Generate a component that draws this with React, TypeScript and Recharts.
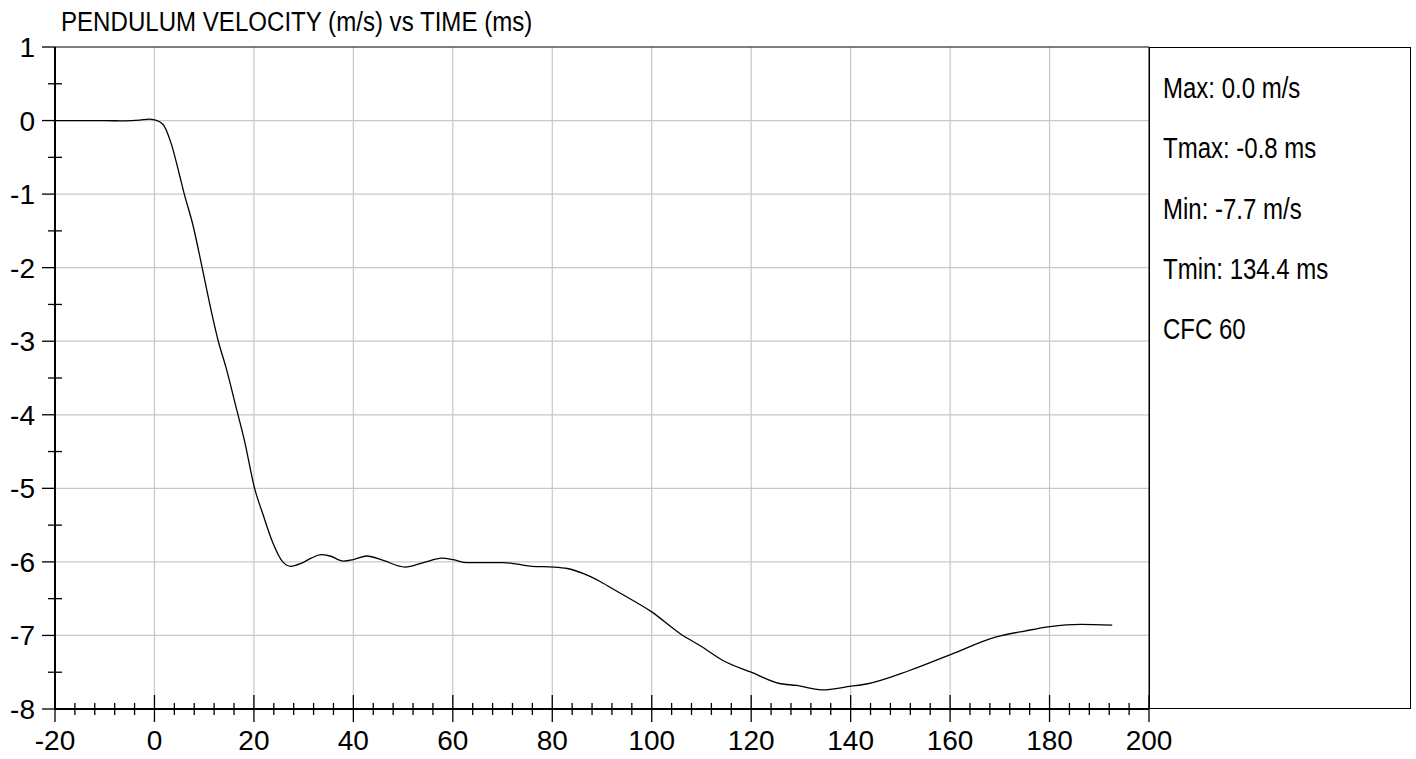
import React from 'react';
import { LineChart, Line, XAxis, YAxis, ReferenceLine } from 'recharts';

const timeMs = [
  -20, -15, -10, -6, -3, -1, 0, 1.7, 3.4, 5, 6, 7.7, 9.5, 11.1, 12.8, 14.4, 16.5, 18.1, 20.1, 21.8,
  23.8, 25.8, 27.4, 29.5, 31.5, 33.5, 35.3, 38, 40, 42.7, 46, 50.4, 54.1, 57.8, 60.1, 62.8, 66.2,
  70.2, 72.9, 75.9, 80.3, 83, 86.3, 89.7, 93, 100, 105.8, 110, 114.3, 120, 125.5, 129.1, 134.2,
  140.1, 143.2, 151.7, 160.1, 169.3, 175, 180.1, 186.2, 192.6,
];
const velocity = [
  0, 0, 0, -0.005, 0.005, 0.02, 0.01, -0.05, -0.32, -0.73, -1.0, -1.41, -1.97, -2.49, -2.99, -3.36,
  -3.92, -4.35, -4.99, -5.35, -5.74, -6.0, -6.06, -6.02, -5.95, -5.9, -5.92, -5.99, -5.97, -5.92,
  -5.98, -6.07, -6.01, -5.95, -5.97, -6.01, -6.01, -6.01, -6.03, -6.06, -6.07, -6.09, -6.16, -6.27,
  -6.4, -6.68, -6.98, -7.15, -7.34, -7.5, -7.65, -7.68, -7.74, -7.69, -7.66, -7.48, -7.26, -7.02,
  -6.94, -6.88, -6.85, -6.86,
];

const xTicks = Array.from({ length: 56 }, (_, i) => -20 + i * 4);
const yTicks = Array.from({ length: 19 }, (_, i) => -8 + i * 0.5);
const xGrid = [0, 20, 40, 60, 80, 100, 120, 140, 160, 180];
const yGrid = [-7, -6, -5, -4, -3, -2, -1, 0];

const title = 'PENDULUM VELOCITY (m/s) vs TIME (ms)';
const stats = ['Max: 0.0 m/s', 'Tmax: -0.8 ms', 'Min: -7.7 m/s', 'Tmin: 134.4 ms', 'CFC 60'];

const data = timeMs.map((t, i) => ({ t, v: velocity[i] }));

const FONT = "'Liberation Sans', Arial, Helvetica, sans-serif";

const XTick = (props: any) => {
  const { x, y, payload } = props;
  const major = payload.value % 20 === 0;
  return (
    <g>
      <line x1={x} x2={x} y1={major ? y - 14 : y - 6} y2={major ? y + 13 : y + 6} stroke="#000" strokeWidth={1.3} />
      {major && (
        <text x={x} y={y + 41} textAnchor="middle" fontSize={28} fontFamily={FONT} fill="#000">
          {payload.value}
        </text>
      )}
    </g>
  );
};

const YTick = (props: any) => {
  const { x, y, payload } = props;
  const major = Number.isInteger(payload.value);
  return (
    <g>
      <line x1={major ? x - 13 : x - 7} x2={major ? x : x + 7} y1={y} y2={y} stroke="#000" strokeWidth={1.3} />
      {major && (
        <text x={x - 20} y={y + 10} textAnchor="end" fontSize={28} fontFamily={FONT} fill="#000">
          {payload.value}
        </text>
      )}
    </g>
  );
};

export default function App() {
  return (
    <div style={{ position: 'absolute', left: 0, top: 0, width: 1416, height: 759, background: '#fff' }}>
      <LineChart width={1416} height={759} data={data} margin={{ top: 47, right: 267, bottom: 0, left: 0 }}>
        {xGrid.map((g) => (
          <ReferenceLine key={`vx${g}`} x={g} stroke="#c8c8c8" strokeWidth={1.2} />
        ))}
        {yGrid.map((g) => (
          <ReferenceLine key={`hy${g}`} y={g} stroke="#c8c8c8" strokeWidth={1.2} />
        ))}
        <ReferenceLine x={200} stroke="#000" strokeWidth={1} />
        <ReferenceLine y={1} stroke="#000" strokeWidth={1} />
        <XAxis
          dataKey="t"
          type="number"
          domain={[-20, 200]}
          ticks={xTicks}
          interval={0}
          tickSize={0}
          tickMargin={0}
          height={50}
          axisLine={{ stroke: '#000', strokeWidth: 2 }}
          tick={<XTick />}
          allowDataOverflow
        />
        <YAxis
          type="number"
          domain={[-8, 1]}
          ticks={yTicks}
          interval={0}
          tickSize={0}
          tickMargin={0}
          width={55}
          axisLine={{ stroke: '#000', strokeWidth: 2 }}
          tick={<YTick />}
          allowDataOverflow
        />
        <Line
          type="monotone"
          dataKey="v"
          stroke="#000"
          strokeWidth={1.3}
          dot={false}
          isAnimationActive={false}
        />
      </LineChart>
      <svg
        width={1416}
        height={759}
        style={{ position: 'absolute', left: 0, top: 0, pointerEvents: 'none' }}
      >
        <text
          x={61}
          y={31}
          fontSize={28}
          fontFamily={FONT}
          fill="#000"
          transform="translate(61 0) scale(0.86 1) translate(-61 0)"
        >
          {title}
        </text>
        <rect x={1149.5} y={47.5} width={261} height={661} fill="none" stroke="#000" strokeWidth={1} />
        {stats.map((s, i) => (
          <text
            key={s}
            x={1163}
            y={98 + i * 60.3}
            fontSize={30}
            fontFamily={FONT}
            fill="#000"
            transform="translate(1163 0) scale(0.8 1) translate(-1163 0)"
          >
            {s}
          </text>
        ))}
      </svg>
    </div>
  );
}
